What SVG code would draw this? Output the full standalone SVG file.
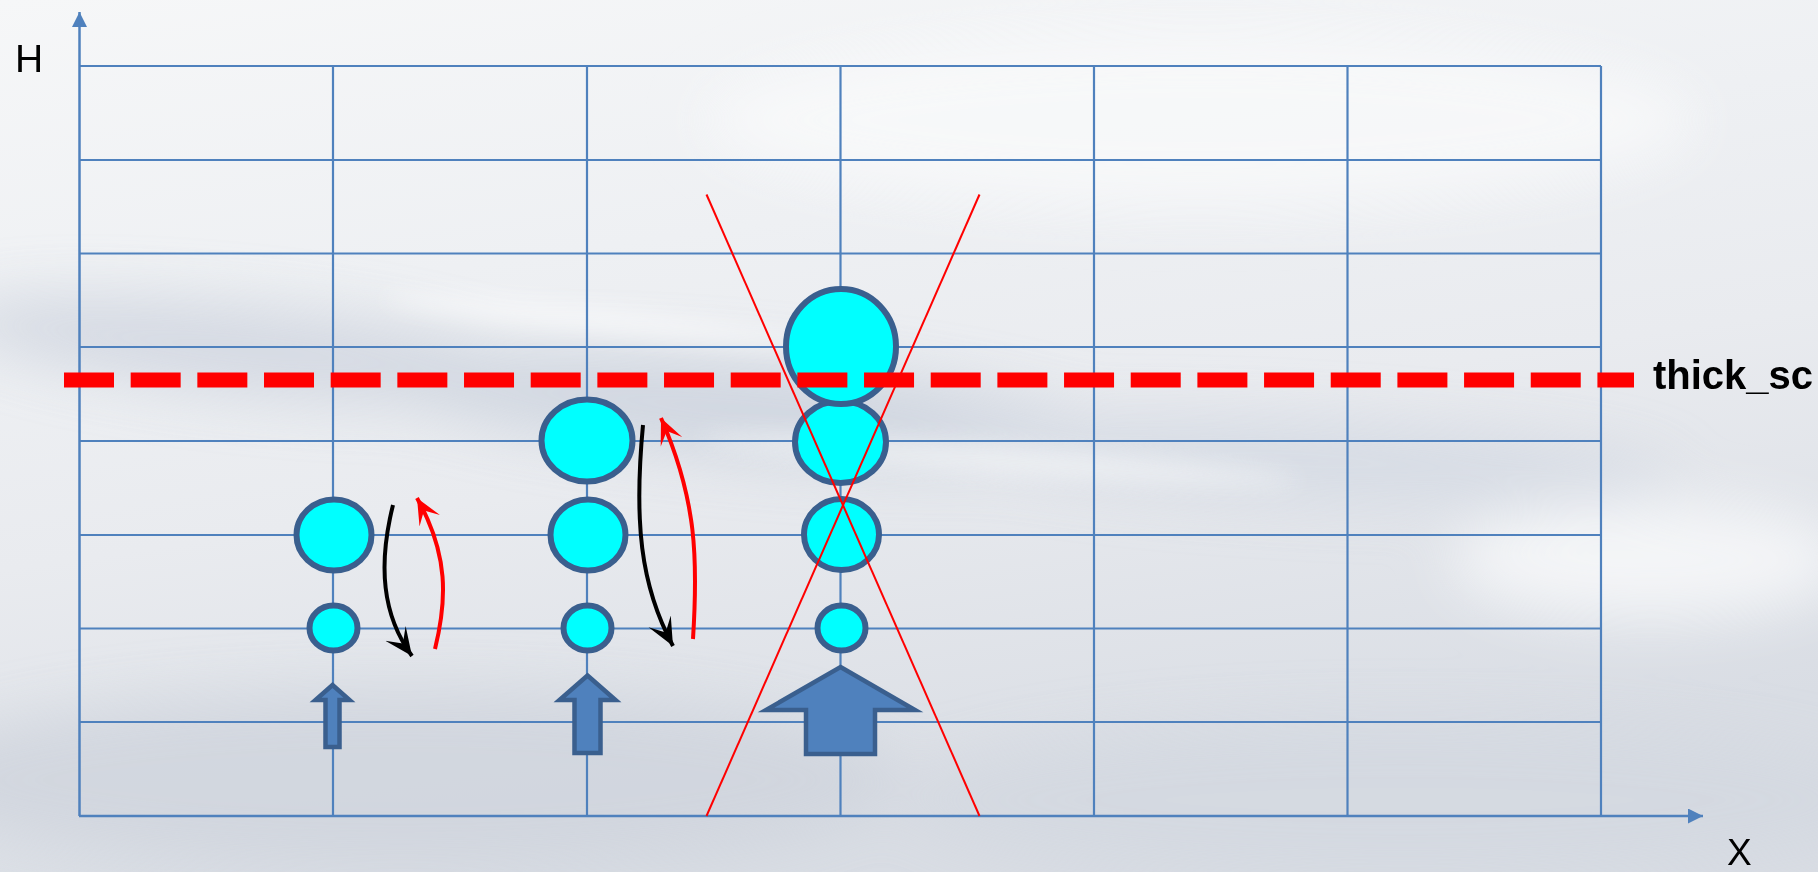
<svg xmlns="http://www.w3.org/2000/svg" width="1818" height="872" viewBox="0 0 1818 872">
<defs>
<style>
.grid{stroke:#4F81BD;stroke-width:2.2;fill:none}
.axis{stroke:#4F81BD;stroke-width:2.5;fill:none}
.ball{fill:#00FFFF;stroke:#3A5F8E;stroke-width:6}
.blk{fill:#4F81BD;stroke:#3A5F8E;stroke-width:4.5;stroke-linejoin:miter}
.cross{stroke:#FF0000;stroke-width:2;fill:none}
.down{stroke:#000;stroke-width:4;fill:none}
.up{stroke:#FF0000;stroke-width:4;fill:none}
.lbl{font-family:"Liberation Sans",Arial,sans-serif;fill:#000}
</style>
<linearGradient id="bg" x1="0" y1="0" x2="0.3" y2="1">
<stop offset="0" stop-color="#F6F7F8"/>
<stop offset="0.35" stop-color="#EEF0F3"/>
<stop offset="0.6" stop-color="#E9EBEF"/>
<stop offset="1" stop-color="#D9DDE4"/>
</linearGradient>
<filter id="blur" x="-20%" y="-50%" width="140%" height="200%"><feGaussianBlur stdDeviation="28"/></filter>
<filter id="blur2" x="-20%" y="-50%" width="140%" height="200%"><feGaussianBlur stdDeviation="12"/></filter>
<marker id="ahB" viewBox="0 0 20 20" refX="20" refY="10" markerWidth="7" markerHeight="7" orient="auto" markerUnits="strokeWidth">
<path d="M0,1 L20,10 L0,19 L9,10 Z" fill="#000"/>
</marker>
<marker id="ahR" viewBox="0 0 20 20" refX="20" refY="10" markerWidth="6.5" markerHeight="6.5" orient="auto" markerUnits="strokeWidth">
<path d="M0,1 L20,10 L0,19 L9,10 Z" fill="#FF0000"/>
</marker>
<marker id="axArr" viewBox="0 0 10 10" refX="10" refY="5" markerWidth="6" markerHeight="6" orient="auto" markerUnits="strokeWidth">
<path d="M0,0 L10,5 L0,10 Z" fill="#4F81BD"/>
</marker>
</defs>

<g id="background">
<rect x="0" y="0" width="1818" height="872" fill="url(#bg)"/>
<g filter="url(#blur)" opacity="0.75">
<ellipse cx="250" cy="350" rx="300" ry="45" fill="#CDD3DE" transform="rotate(6 250 350)"/>
<ellipse cx="750" cy="410" rx="380" ry="50" fill="#C9D0DC" transform="rotate(5 750 410)"/>
<ellipse cx="1300" cy="460" rx="380" ry="40" fill="#D2D8E2" transform="rotate(3 1300 460)"/>
<ellipse cx="400" cy="780" rx="500" ry="90" fill="#CED3DC"/>
<ellipse cx="1400" cy="800" rx="500" ry="80" fill="#D3D8E0"/>
<ellipse cx="1650" cy="560" rx="200" ry="60" fill="#FAFBFC"/>
<ellipse cx="1200" cy="120" rx="500" ry="90" fill="#F9FAFB"/>
</g>
<g filter="url(#blur2)" opacity="0.6">
<ellipse cx="1000" cy="460" rx="300" ry="14" fill="#F8F9FA" transform="rotate(4 1000 460)"/>
<ellipse cx="600" cy="320" rx="220" ry="12" fill="#FFFFFF" transform="rotate(6 600 320)"/>
</g>
</g>

<g id="grid">
<line class="grid" x1="79" y1="66" x2="1601" y2="66"/>
<line class="grid" x1="79" y1="160" x2="1601" y2="160"/>
<line class="grid" x1="79" y1="253.5" x2="1601" y2="253.5"/>
<line class="grid" x1="79" y1="347" x2="1601" y2="347"/>
<line class="grid" x1="79" y1="441" x2="1601" y2="441"/>
<line class="grid" x1="79" y1="535" x2="1601" y2="535"/>
<line class="grid" x1="79" y1="628.5" x2="1601" y2="628.5"/>
<line class="grid" x1="79" y1="722" x2="1601" y2="722"/>
<line class="grid" x1="333" y1="66" x2="333" y2="816"/>
<line class="grid" x1="587" y1="66" x2="587" y2="816"/>
<line class="grid" x1="840.5" y1="66" x2="840.5" y2="816"/>
<line class="grid" x1="1094" y1="66" x2="1094" y2="816"/>
<line class="grid" x1="1347.5" y1="66" x2="1347.5" y2="816"/>
<line class="grid" x1="1601" y1="66" x2="1601" y2="816"/>
</g>

<g id="axes">
<line class="axis" x1="79.5" y1="816" x2="79.5" y2="12" marker-end="url(#axArr)"/>
<line class="axis" x1="79" y1="816" x2="1703" y2="816" stroke-width="3" marker-end="url(#axArr)"/>
</g>

<g id="column1">
<ellipse id="c1-small" class="ball" cx="333.5" cy="628" rx="24" ry="22.5"/>
<ellipse id="c1-mid" class="ball" cx="334" cy="535" rx="37.5" ry="35.5"/>
<path id="c1-push" class="blk" d="M332.5,685 L349.5,700 L339.5,700 L339.5,747 L325.5,747 L325.5,700 L315.5,700 Z"/>
</g>

<g id="column2">
<ellipse id="c2-small" class="ball" cx="587.5" cy="628" rx="24" ry="22.5"/>
<ellipse id="c2-mid" class="ball" cx="588" cy="535" rx="37.5" ry="35.5"/>
<ellipse id="c2-large" class="ball" cx="587" cy="440.5" rx="45.5" ry="41"/>
<path id="c2-push" class="blk" d="M587.5,675.5 L615.5,700 L600.5,700 L600.5,753 L574.5,753 L574.5,700 L559.5,700 Z"/>
</g>

<g id="column3">
<ellipse id="c3-small" class="ball" cx="841.5" cy="628" rx="24" ry="22.5"/>
<ellipse id="c3-mid" class="ball" cx="841.5" cy="534.5" rx="37.5" ry="35.5"/>
<ellipse id="c3-large" class="ball" cx="840.5" cy="442" rx="45.5" ry="41"/>
<ellipse id="c3-xl" class="ball" cx="841" cy="346.5" rx="55" ry="57.5"/>
<path id="c3-push" class="blk" d="M840.5,667 L915,710 L875,710 L875,754 L806,754 L806,710 L766,710 Z"/>
</g>

<g id="connectors">
<path class="down" d="M393,505 C378,565 382,615 412,656" marker-end="url(#ahB)"/>
<path class="up" d="M435,649 C447,600 449,555 417,498" marker-end="url(#ahR)"/>
<path class="down" d="M643,425 C634,520 640,585 673,646" marker-end="url(#ahB)"/>
<path class="up" d="M693,639 C698,560 697,500 661,418" marker-end="url(#ahR)"/>
</g>

<g id="cross">
<line class="cross" x1="706.5" y1="194.5" x2="979.5" y2="816"/>
<line class="cross" x1="979.5" y1="194.5" x2="706.5" y2="816"/>
</g>

<g id="threshold">
<line x1="64" y1="380" x2="1634" y2="380" stroke="#FF0000" stroke-width="15" stroke-dasharray="50 16.67"/>
<text class="lbl" x="1653" y="389" font-size="40" font-weight="bold">thick_sc</text>
</g>

<g id="labels">
<text class="lbl" x="15" y="72" font-size="39">H</text>
<text class="lbl" x="1727" y="865" font-size="37">X</text>
</g>
</svg>
